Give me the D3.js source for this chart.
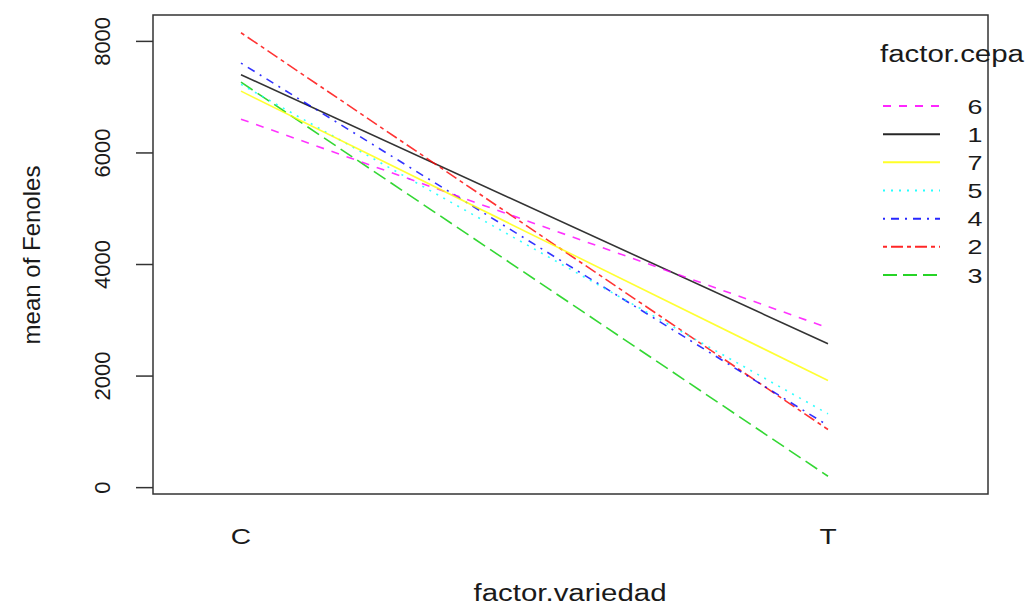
<!DOCTYPE html>
<html>
<head>
<meta charset="utf-8">
<script src="https://cdn.jsdelivr.net/npm/d3@7"></script>
<style>
  html, body { margin: 0; padding: 0; background: #fff; }
  svg { display: block; }
  text { font-family: "Liberation Sans", Arial, sans-serif; fill: #1a1a1a; }
</style>
</head>
<body>
<svg id="chart" width="1033" height="606"></svg>
<script>
// ---- data ----
const variedades = ["C", "T"];
const cepas = ["1", "2", "3", "4", "5", "6", "7"];
const valuesC = [7393, 8146, 7260, 7601, 7220, 6597, 7099];
const valuesT = [2570, 1033, 195, 1104, 1314, 2856, 1911];
const legendOrder = ["6", "1", "7", "5", "4", "2", "3"];
const yTicks = [0, 2000, 4000, 6000, 8000];
const cepaColors = ["#000000", "#FF0000", "#00CD00", "#0000FF", "#00FFFF", "#FF00FF", "#FFFF00"];
const cepaDash = ["none", "4,4,12,4", "14,6", "2,6,8,6", "2,6", "8,8", "none"];

const series = cepas.map((c, i) => ({
  cepa: c,
  values: [{ v: "C", y: valuesC[i] }, { v: "T", y: valuesT[i] }],
  color: cepaColors[i],
  dash: cepaDash[i]
}));

// ---- layout ----
const svg = d3.select("#chart");
const box = { left: 153, right: 988, top: 15, bottom: 494 };
const SX = 1.28; // horizontal stretch of horizontal text in reference

const all = valuesC.concat(valuesT);
const ymin = d3.min(all), ymax = d3.max(all);
const pad = (ymax - ymin) * 0.04;
const y = d3.scaleLinear().domain([ymin - pad, ymax + pad]).range([box.bottom, box.top]);
const x = d3.scalePoint().domain(variedades).range([241, 828]);

// box
svg.append("rect")
  .attr("x", box.left).attr("y", box.top)
  .attr("width", box.right - box.left).attr("height", box.bottom - box.top)
  .attr("fill", "none").attr("stroke", "#333").attr("stroke-width", 1.5);

// y axis
const yAxis = d3.axisLeft(y).tickValues(yTicks).tickSize(17).tickFormat(d3.format("d"));
const yg = svg.append("g").attr("transform", `translate(${box.left},0)`).call(yAxis);
yg.select(".domain").remove();
yg.selectAll(".tick line").attr("stroke", "#333").attr("stroke-width", 1.5);
yg.selectAll(".tick text").remove();
yg.selectAll(".tick").append("text")
  .attr("transform", "translate(-51,0) rotate(-90)")
  .attr("text-anchor", "middle")
  .attr("dy", "0.36em")
  .attr("font-size", 22)
  .style("fill", "#1a1a1a")
  .text(d => d);

// x labels
variedades.forEach(v => {
  svg.append("g").attr("transform", `translate(${x(v)},544) scale(${SX},1)`)
    .append("text").attr("text-anchor", "middle").attr("font-size", 22).text(v);
});

// axis titles
svg.append("g").attr("transform", `translate(570,601) scale(${SX},1)`)
  .append("text").attr("text-anchor", "middle").attr("font-size", 23).text("factor.variedad");
svg.append("text")
  .attr("transform", "translate(40,255) rotate(-90)")
  .attr("text-anchor", "middle").attr("font-size", 24).text("mean of Fenoles");

// lines
const line = d3.line().x(d => x(d.v)).y(d => y(d.y));
svg.append("g").selectAll("path").data(series).join("path")
  .attr("d", d => line(d.values))
  .attr("fill", "none")
  .attr("stroke", d => d.color)
  .attr("stroke-opacity", 0.8)
  .attr("stroke-width", 1.6)
  .attr("stroke-dasharray", d => d.dash);

// legend
svg.append("g").attr("transform", `translate(880,62) scale(${SX},1)`)
  .append("text").attr("font-size", 23).text("factor.cepa");
const legY = d3.scalePoint().domain(legendOrder).range([106, 275]);
const lg = svg.append("g");
legendOrder.forEach(c => {
  const s = series.find(d => d.cepa === c);
  lg.append("line")
    .attr("x1", 883).attr("x2", 940)
    .attr("y1", legY(c)).attr("y2", legY(c))
    .attr("stroke", s.color).attr("stroke-opacity", 0.85).attr("stroke-width", 2)
    .attr("stroke-dasharray", s.dash);
  lg.append("g").attr("transform", `translate(975,${legY(c) + 7.5}) scale(${SX},1)`)
    .append("text").attr("text-anchor", "middle").attr("font-size", 21).text(c);
});
</script>
</body>
</html>
